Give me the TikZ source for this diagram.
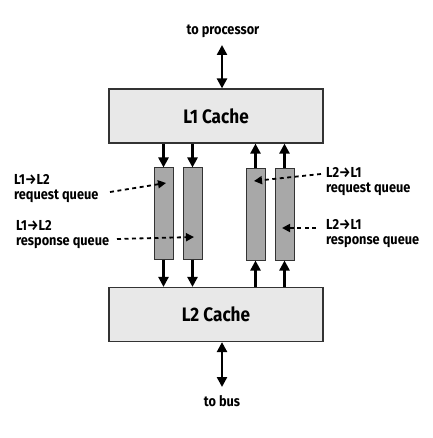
\documentclass[tikz,border=0pt]{standalone}
\usepackage{fontspec}
\setmainfont{Fira Sans}[UprightFont=* SemiBold, BoldFont=* Bold, FakeStretch=0.88]
\usetikzlibrary{arrows.meta}
\definecolor{boxfill}{HTML}{E8E8E8}
\definecolor{qfill}{HTML}{A8A8A8}
\definecolor{edge}{HTML}{333333}
\begin{document}
\begin{tikzpicture}[x=1pt,y=-1pt,
  cache/.style={draw=edge, line width=1.2pt, fill=boxfill, minimum width=214pt, minimum height=54pt, inner sep=0pt, font=\fontsize{19.5}{22}\selectfont\bfseries},
  queue/.style={draw=edge, line width=1pt, fill=qfill, minimum width=19pt, minimum height=91pt, inner sep=0pt},
  lbl/.style={font=\fontsize{14.5}{15.5}\selectfont\bfseries, inner sep=0pt, align=left},
  arr/.style={line width=2.4pt, -{Triangle[width=10pt,length=10pt]}},
  darr/.style={line width=2.4pt, {Triangle[width=10pt,length=10pt]}-{Triangle[width=10pt,length=10pt]}},
  dasharr/.style={line width=1.8pt, dash pattern=on 4pt off 3.5pt, -{Triangle[width=8pt,length=8pt]}}
]
\useasboundingbox (0,0) rectangle (432,438);
\node[cache] (l1) at (216,116) {L1 Cache};
\node[cache] (l2) at (216,314.5) {L2 Cache};
\node[queue] (q1) at (163.5,213.5) {};
\node[queue] (q2) at (192.5,213.5) {};
\node[queue] (q3) at (255.5,214.5) {};
\node[queue] (q4) at (284.5,214.5) {};
\node[lbl, anchor=base] (tp) at (223,35) {to processor};
\node[lbl, anchor=base] (tb) at (222,406) {to bus};
\coordinate (tpa) at (222,45);
\coordinate (tba) at (222,387);
\draw[darr] (tpa) -- (l1.north -| tpa);
\draw[darr] (l2.south -| tba) -- (tba);
% down arrows
\draw[arr] (l1.south -| q1) -- (q1.north);
\draw[arr] (l1.south -| q2) -- (q2.north);
\draw[arr] (q1.south) -- (l2.north -| q1);
\draw[arr] (q2.south) -- (l2.north -| q2);
% up arrows
\draw[arr] (q3.north) -- (l1.south -| q3);
\draw[arr] (q4.north) -- (l1.south -| q4);
\draw[arr] (l2.north -| q3) -- (q3.south);
\draw[arr] (l2.north -| q4) -- (q4.south);
% labels
\node[lbl, anchor=north west] (a1) at (14,174) {L1→L2\\request queue};
\node[lbl, anchor=north west] (a2) at (16,220) {L1→L2\\response queue};
\node[lbl, anchor=north west] (b1) at (326,167) {L2→L1\\request queue};
\node[lbl, anchor=north west] (b2) at (326,219) {L2→L1\\response queue};
\coordinate (a1s) at (110,192);
\coordinate (a1e) at (166,183);
\coordinate (a2s) at (117,239);
\coordinate (a2e) at (194,237);
\coordinate (b1s) at (321,174);
\coordinate (b1e) at (254,181);
\coordinate (b2s) at (316,228);
\coordinate (b2e) at (282,228);
\draw[dasharr] (a1s) -- (a1e);
\draw[dasharr] (a2s) -- (a2e);
\draw[dasharr] (b1s) -- (b1e);
\draw[dasharr] (b2s) -- (b2e);
\end{tikzpicture}
\end{document}
